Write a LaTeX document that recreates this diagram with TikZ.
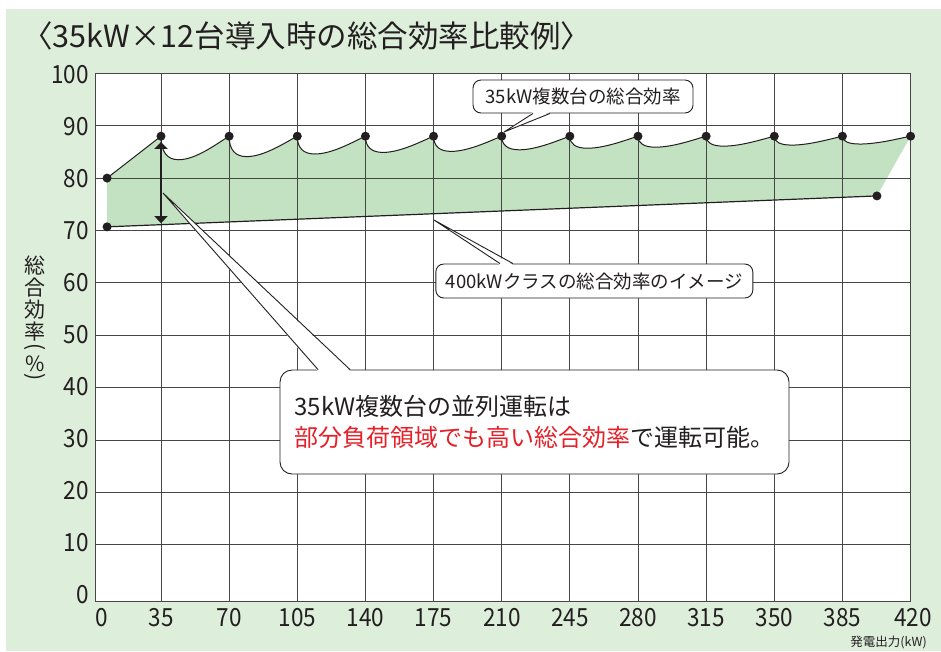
\documentclass[tikz,border=0pt]{standalone}
\usepackage{fontspec}
\setmainfont{Noto Sans CJK JP}
\usetikzlibrary{arrows.meta,calc}

\definecolor{bggreen}{RGB}{221,238,219}
\definecolor{areagreen}{RGB}{195,226,193}
\definecolor{inkblack}{RGB}{35,31,32}
\definecolor{gridgray}{RGB}{70,70,70}
\definecolor{hired}{RGB}{230,32,40}

\tikzset{
	dot/.style={circle, fill=inkblack, inner sep=0pt, minimum size=9pt},
	tick/.style={font=\fontsize{25}{25}\selectfont, text=inkblack, inner sep=0pt},
	callout/.style={draw=inkblack, fill=white, line width=0.9pt, rounded corners=8pt, text=inkblack, inner sep=0pt},
	pointer/.style={inkblack, line width=0.9pt},
	gridline/.style={gridgray, line width=0.9pt},
	curve/.style={inkblack, line width=1pt},
}

\begin{document}
\begin{tikzpicture}[x=1pt, y=-1pt]
		\useasboundingbox (0,0) rectangle (941,651);
		% Background
		\fill[bggreen] (6,9) rectangle (941,651);
		\fill[white] (95.7,73.3) rectangle (910.7,601.7);
		
		% Title
		\node[anchor=west, font=\fontsize{30.5}{30.5}\selectfont, text=inkblack, inner sep=0pt] (title) at (22,36) {〈35kW×12台導入時の総合効率比較例〉};
		
		% Points (kW, %)
		\begin{scope}[shift={(92.85,597.3)}, x=1.947pt, y=5.24pt]
			\coordinate (a0) at (7.3,80);
			\coordinate (b0) at (7.3,70.7);
			\coordinate (b1) at (402.7,76.6);
			\foreach \n in {1,...,12}
				\coordinate (p\n) at ({35*\n},88);
			\coordinate (atop) at (35,86.9);
			\coordinate (abot) at (35,71.4);
			
			% Area between the two curves
			\fill[areagreen] (a0) -- (p1)
				\foreach \dip [count=\n] in {83.5,84.1,84.6,84.9,85.1,85.4,85.7,85.9,86.1,86.3,86.5} {
					.. controls ({35*\n},{\dip+0.35*(88-\dip)}) and ({35*\n+3},\dip) .. ({35*\n+9},\dip)
					.. controls ({35*\n+18},\dip) and ({35*\n+29},{88-0.3*(88-\dip)}) .. ({35*\n+35},88)
				} -- (b1) -- (b0) -- cycle;
			
			% Grid
			\foreach \n in {1,...,11}
				\draw[gridline] ({35*\n},-0.84) -- ({35*\n},100);
			\foreach \v in {10,20,...,90}
				\draw[gridline] (1.46,\v) -- (420,\v);
		\end{scope}
		\draw[gridgray, line width=1.5pt] (95.7,73.3) rectangle (910.7,601.7);
		
		% Curves
		\draw[curve] (a0) -- (p1);
		\begin{scope}[shift={(92.85,597.3)}, x=1.947pt, y=5.24pt]
			\foreach \dip [count=\n] in {83.5,84.1,84.6,84.9,85.1,85.4,85.7,85.9,86.1,86.3,86.5} {
				\pgfmathtruncatemacro{\m}{\n+1}
				\draw[curve] (p\n) .. controls ({35*\n},{\dip+0.35*(88-\dip)}) and ({35*\n+3},\dip) .. ({35*\n+9},\dip)
					.. controls ({35*\n+18},\dip) and ({35*\n+29},{88-0.3*(88-\dip)}) .. (p\m);
			}
		\end{scope}
		\draw[curve, line width=1.2pt] (b0) -- (b1);
		\draw[inkblack, line width=1.8pt, {Triangle[width=13pt,length=7pt]}-{Triangle[width=13pt,length=7pt]}] (atop) -- (abot);
		
		% Dots
		\foreach \n in {1,...,12}
			\node[dot] (dot\n) at (p\n) {};
		\node[dot] (dota0) at (a0) {};
		\node[dot] (dotb0) at (b0) {};
		\node[dot] (dotb1) at (b1) {};
		
		% Callouts
		\node[callout, minimum width=220pt, minimum height=33pt, font=\fontsize{18.5}{18.5}\selectfont] (multi) at (583,96.5) {35kW複数台の総合効率};
		\coordinate (multitip) at (504,132);
		\coordinate (multia) at ([xshift=-50pt]multi.south);
		\coordinate (multib) at ([xshift=-33pt]multi.south);
		\fill[white] ([yshift=1.5pt]multia) -- (multitip) -- ([yshift=1.5pt]multib) -- cycle;
		\draw[pointer] (multia) -- (multitip) -- (multib);
		
		\node[callout, minimum width=317pt, minimum height=34pt, font=\fontsize{18.5}{18.5}\selectfont] (large) at (594.3,281) {400kWクラスの総合効率のイメージ};
		\coordinate (largetip) at (434,220);
		\coordinate (largea) at ([xshift=-94.3pt]large.north);
		\coordinate (largeb) at ([xshift=-81.3pt]large.north);
		\fill[white] ([yshift=-1.5pt]largea) -- (largetip) -- ([yshift=-1.5pt]largeb) -- cycle;
		\draw[pointer] (largea) -- (largetip) -- (largeb);
		
		\node[callout, rounded corners=12pt, minimum width=509pt, minimum height=104pt, align=left, font=\fontsize{24}{31}\selectfont] (msg) at (534.5,422) {35kW複数台の並列運転は\\\textcolor{hired}{部分負荷領域でも高い総合効率}で運転可能。};
		\coordinate (msgtip) at (163,193);
		\coordinate (msga) at ([xshift=-216.5pt]msg.north);
		\coordinate (msgb) at ([xshift=-184.5pt]msg.north);
		\fill[white] ([yshift=-1.5pt]msga) -- (msgtip) -- ([yshift=-1.5pt]msgb) -- cycle;
		\draw[pointer] (msga) -- (msgtip) -- (msgb);
		
		% Axis labels
		\foreach \v in {0,10,...,100}
			\node[tick, anchor=east] (y\v) at (89,{594.9-5.207*\v}) {\scalebox{0.9}[1]{\v}};
		\foreach \lab/\px in {0/101.7, 35/161, 70/229.2, 105/297.3, 140/365.5, 175/433.6, 210/501.8, 245/569.9, 280/638.1, 315/706.2, 350/774.4, 385/842.5, 420/913}
			\node[tick] (x\lab) at (\px,618) {\scalebox{0.9}[1]{\lab}};
		\node[font=\fontsize{21}{22}\selectfont, text=inkblack, align=center, inner sep=0pt] (ytitle) at (35,320) {総\\合\\効\\率\\[-8pt]\rotatebox[origin=c]{-90}{(}\\[-4pt]\%\\[-10pt]\rotatebox[origin=c]{-90}{)}};
		\node[anchor=east, font=\fontsize{12.5}{12.5}\selectfont, text=inkblack, inner sep=0pt] (unit) at (927,642.5) {発電出力(kW)};
\end{tikzpicture}
\end{document}
